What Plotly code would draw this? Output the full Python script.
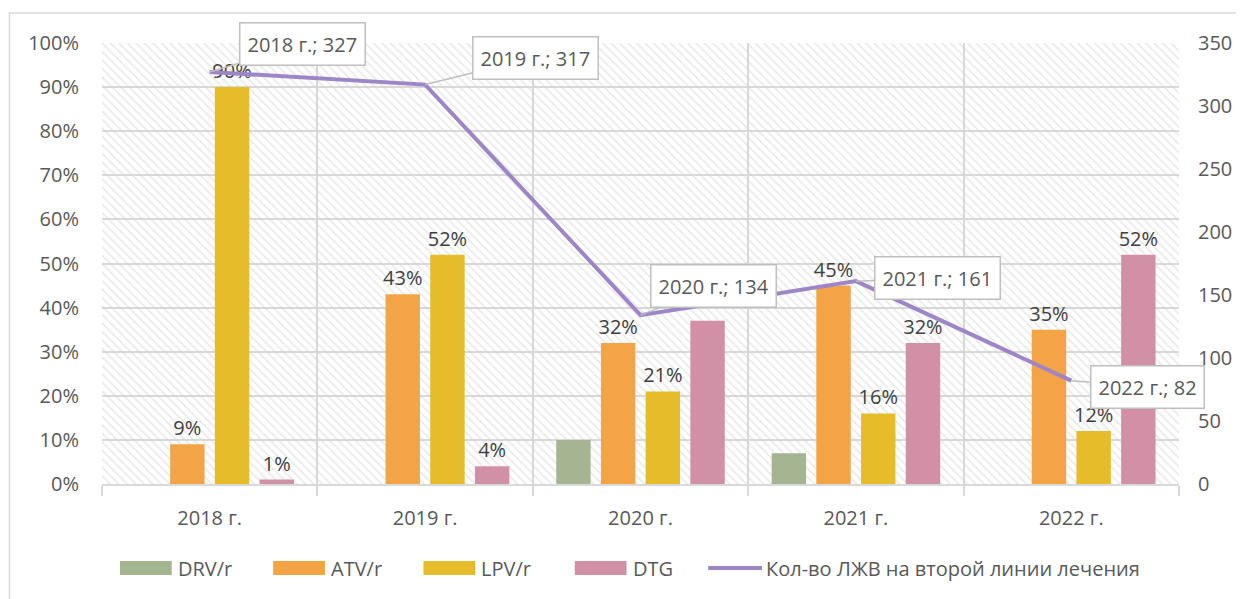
import plotly.graph_objects as go

years = ["2018 г.", "2019 г.", "2020 г.", "2021 г.", "2022 г."]
drv = [None, None, 10, 7, None]
atv = [9, 43, 32, 45, 35]
lpv = [90, 52, 21, 16, 12]
dtg = [1, 4, 37, 32, 52]
dtg_labels = ["1%", "4%", "", "32%", "52%"]
plhiv = [327, 317, 134, 161, 82]
line_name = "Кол-во ЛЖВ на второй линии лечения"

pct_ticks = list(range(0, 101, 10))
cnt_ticks = list(range(0, 351, 50))

FONT = "Open Sans"
GREY = "#595959"
GRID = "#d9d9d9"

# figure geometry (page has an 8px body margin)
W, H = 1236, 591
L, R, T, B = 94, 60, 35, 115
PW, PH = W - L - R, H - T - B


def px(x):
    return (x - 8 - L) / PW


def py(y):
    return (H - B - (y - 8)) / PH


fig = go.Figure()

# hatched plot background (base subplot, drawn under the real traces)
fig.add_trace(go.Bar(
    x=[2.5], y=[1], width=[5], xaxis="x", yaxis="y",
    marker=dict(color="rgba(0,0,0,0)", line=dict(width=0),
                pattern=dict(shape="\\", fgcolor="#d0d0d0", bgcolor="rgba(0,0,0,0)",
                             size=6, solidity=0.25)),
    showlegend=False, hoverinfo="skip",
))

bar_series = [
    ("DRV/r", drv, "#a6b591", ["" for _ in drv]),
    ("ATV/r", atv, "#f3a447", [f"{v}%" for v in atv]),
    ("LPV/r", lpv, "#e6bc2b", [f"{v}%" for v in lpv]),
    ("DTG", dtg, "#d190a6", dtg_labels),
]
for name, vals, color, labels in bar_series:
    fig.add_trace(go.Bar(
        x=years, y=vals, name=name, xaxis="x2", yaxis="y2",
        marker=dict(color=color, line=dict(width=0)),
        text=labels, textposition="outside", cliponaxis=False,
        constraintext="none",
        textfont=dict(family=FONT, size=20, color="#404040"),
        showlegend=False,
    ))

line_color = "#9d85c8"
fig.add_trace(go.Scatter(
    x=years, y=plhiv, name=line_name,
    xaxis="x2", yaxis="y3", mode="lines",
    line=dict(color=line_color, width=4), showlegend=False,
))

# callout labels for the line
offsets = [(93, -28), (110, -27), (73, -29), (82, -3), (76, 6)]
for yr, v, (ax, ay) in zip(years, plhiv, offsets):
    fig.add_annotation(
        x=yr, y=v, xref="x2", yref="y3", text=f"{yr}; {v}",
        showarrow=True, arrowhead=0, arrowwidth=1.5, arrowcolor="#bfbfbf",
        ax=ax, ay=ay, bgcolor="white", bordercolor="#bfbfbf", borderwidth=1.5,
        borderpad=7, font=dict(family=FONT, size=20, color=GREY),
    )

# legend drawn as Excel-style wide swatches
leg_y = 568
box_left = [120, 274, 425, 577]
for (name, _, color, _), x0 in zip(bar_series, box_left):
    fig.add_shape(type="rect", xref="paper", yref="paper",
                  x0=px(x0), x1=px(x0 + 52), y0=py(leg_y + 7), y1=py(leg_y - 7),
                  fillcolor=color, line=dict(width=0))
    fig.add_annotation(x=px(x0 + 56), y=py(leg_y), xref="paper", yref="paper",
                       text=name, showarrow=False, xanchor="left", yanchor="middle",
                       font=dict(family=FONT, size=20, color=GREY))
fig.add_shape(type="line", xref="paper", yref="paper",
              x0=px(711), x1=px(765), y0=py(leg_y), y1=py(leg_y),
              line=dict(color=line_color, width=4))
fig.add_annotation(x=px(767), y=py(leg_y), xref="paper", yref="paper",
                   text=line_name, showarrow=False, xanchor="left", yanchor="middle",
                   font=dict(family=FONT, size=20, color=GREY))

# outer chart frame
fig.add_shape(type="rect", xref="paper", yref="paper",
              x0=px(9), x1=px(1260), y0=py(620), y1=py(13),
              line=dict(color=GRID, width=1.5), fillcolor="rgba(0,0,0,0)", layer="below")

fig.update_layout(
    width=W, height=H,
    margin=dict(l=L, r=R, t=T, b=B),
    paper_bgcolor="white", plot_bgcolor="white",
    barmode="group", bargap=0.17, bargroupgap=0.23,
    font=dict(family=FONT, size=20, color=GREY),
    showlegend=False,
    xaxis=dict(range=[0, 5], showgrid=True, gridcolor=GRID, gridwidth=1.5,
               tick0=0, dtick=1, ticks="outside", ticklen=10, tickcolor=GRID,
               tickwidth=1.5, showticklabels=False, showline=True,
               linecolor=GRID, linewidth=1.5, zeroline=False, fixedrange=True),
    yaxis=dict(range=[0, 1], visible=False, fixedrange=True),
    xaxis2=dict(overlaying="x", anchor="y2", type="category", range=[-0.5, 4.5],
                showgrid=False, ticks="", ticklabelstandoff=20,
                tickfont=dict(size=20, color=GREY)),
    yaxis2=dict(overlaying="y", anchor="x2", side="left", range=[0, 100],
                tickvals=pct_ticks, ticktext=[f"{t}%" for t in pct_ticks],
                showgrid=True, gridcolor=GRID, gridwidth=1.5, zeroline=False,
                ticklabelstandoff=22, tickfont=dict(size=20, color=GREY)),
    yaxis3=dict(overlaying="y", anchor="x2", side="right", range=[0, 350],
                tickvals=cnt_ticks, showgrid=False, zeroline=False,
                ticklabelstandoff=18, tickfont=dict(size=20, color=GREY)),
)

fig.write_html("out.html")
